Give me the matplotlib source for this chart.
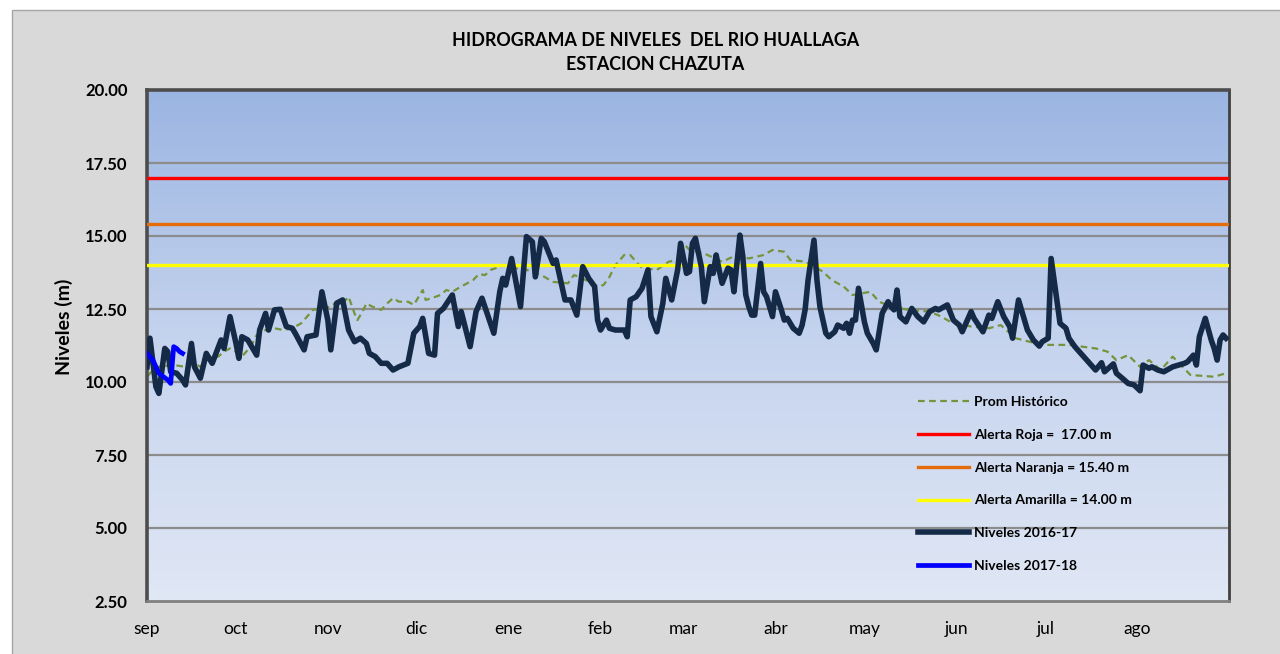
import numpy as np
from matplotlib import pyplot as plt
from matplotlib.colors import LinearSegmentedColormap
from matplotlib.patches import Rectangle

# dias contados desde el 1 de setiembre
meses = ['sep', 'oct', 'nov', 'dic', 'ene', 'feb', 'mar', 'abr', 'may', 'jun', 'jul', 'ago']
inicio_mes = [0, 30, 61, 91, 122, 153, 181, 212, 242, 273, 303, 334]

# niveles 2016-17
dias_1617 = [0, 1, 3, 4, 6, 7, 8, 10, 12, 13,
             15, 16, 18, 20, 22, 25, 26, 28, 30, 31,
             32, 34, 37, 38, 40, 41, 43, 45, 47, 49,
             50, 53, 54, 57, 59, 61, 62, 64, 66, 68,
             70, 72, 74, 75, 77, 79, 81, 83, 85, 88,
             90, 92, 93, 95, 97, 98, 100, 103, 105, 106,
             109, 111, 113, 117, 119, 120, 121, 123, 126, 128,
             130, 131, 133, 134, 137, 138, 141, 143, 145, 147,
             149, 151, 152, 153, 155, 156, 158, 161, 162, 163,
             165, 167, 169, 170, 172, 174, 175, 177, 179, 180,
             182, 183, 184, 185, 187, 188, 190, 191, 192, 193,
             194, 196, 197, 198, 200, 201, 202, 203, 204, 205,
             207, 208, 209, 211, 212, 214, 215, 216, 218, 220,
             221, 222, 223, 225, 226, 227, 229, 230, 232, 233,
             235, 236, 237, 238, 239, 240, 242, 243, 245, 246,
             248, 250, 251, 252, 253, 254, 256, 258, 260, 262,
             264, 266, 267, 270, 272, 274, 275, 278, 279, 282,
             284, 285, 287, 289, 291, 292, 294, 296, 297, 299,
             301, 302, 304, 305, 306, 308, 310, 311, 313, 315,
             317, 319, 320, 322, 323, 326, 327, 329, 331, 333,
             335, 336, 338, 339, 341, 343, 346, 348, 350, 351,
             353, 354, 355, 357, 359, 360, 361, 362, 363, 364]
niv_1617 = [10.52, 11.50, 9.84, 9.61, 11.15, 11.04, 10.35, 10.30, 10.07, 9.90,
            11.32, 10.52, 10.13, 10.98, 10.64, 11.44, 11.15, 12.24, 11.33, 10.81,
            11.55, 11.44, 10.92, 11.78, 12.35, 11.78, 12.47, 12.49, 11.90, 11.84,
            11.67, 11.10, 11.55, 11.61, 13.09, 12.12, 11.10, 12.70, 12.81, 11.78,
            11.38, 11.50, 11.32, 10.98, 10.87, 10.64, 10.64, 10.41, 10.52, 10.64,
            11.67, 11.90, 12.18, 10.98, 10.92, 12.35, 12.52, 12.98, 11.90, 12.41,
            11.21, 12.41, 12.87, 11.67, 13.09, 13.55, 13.32, 14.23, 12.58, 14.98,
            14.80, 13.60, 14.92, 14.81, 14.06, 14.18, 12.81, 12.81, 12.29, 13.95,
            13.55, 13.27, 12.12, 11.78, 12.12, 11.84, 11.78, 11.78, 11.55, 12.81,
            12.92, 13.21, 13.84, 12.24, 11.72, 12.69, 13.55, 12.81, 13.84, 14.75,
            13.72, 13.78, 14.75, 14.92, 13.95, 12.75, 13.95, 13.72, 14.35, 13.84,
            13.38, 13.90, 13.84, 13.09, 15.03, 14.29, 12.98, 12.58, 12.29, 12.29,
            14.06, 13.09, 12.92, 12.24, 13.09, 12.47, 12.12, 12.18, 11.84, 11.67,
            11.95, 12.47, 13.49, 14.86, 13.49, 12.58, 11.67, 11.55, 11.72, 11.95,
            11.84, 12.01, 11.67, 12.12, 12.12, 13.21, 12.06, 11.67, 11.32, 11.10,
            12.35, 12.75, 12.58, 12.47, 13.15, 12.24, 12.06, 12.52, 12.24, 12.06,
            12.41, 12.52, 12.47, 12.64, 12.12, 11.95, 11.72, 12.41, 12.18, 11.72,
            12.29, 12.18, 12.75, 12.24, 11.90, 11.50, 12.81, 12.12, 11.78, 11.44,
            11.23, 11.38, 11.50, 14.23, 13.49, 12.01, 11.84, 11.50, 11.21, 10.98,
            10.75, 10.52, 10.41, 10.66, 10.35, 10.62, 10.30, 10.13, 9.95, 9.90,
            9.70, 10.58, 10.47, 10.52, 10.41, 10.35, 10.52, 10.58, 10.64, 10.69,
            10.92, 10.58, 11.55, 12.18, 11.44, 11.15, 10.75, 11.44, 11.61, 11.50]

# niveles 2017-18 (primeros dias)
dias_1718 = [0, 2, 4, 7, 8, 9, 10, 11, 12]
niv_1718 = [10.98, 10.75, 10.30, 10.07, 9.95, 11.21, 11.15, 11.04, 10.98]

# promedio historico
dias_prom = [0, 2, 4, 9, 13, 16, 18, 20, 24, 26,
             28, 30, 32, 35, 37, 40, 43, 46, 49, 52,
             54, 56, 59, 62, 64, 66, 68, 70, 71, 73,
             74, 76, 79, 81, 83, 85, 88, 90, 93, 94,
             96, 99, 101, 103, 106, 108, 110, 112, 114, 116,
             119, 121, 124, 128, 133, 137, 142, 144, 146, 148,
             152, 154, 156, 158, 161, 163, 165, 167, 172, 176,
             179, 181, 183, 188, 194, 199, 203, 208, 211, 215,
             217, 222, 228, 231, 235, 238, 244, 247, 251, 257,
             264, 268, 271, 278, 284, 288, 293, 302, 311, 320,
             324, 327, 331, 335, 338, 342, 346, 352, 360, 364]
niv_prom = [10.18, 10.41, 10.52, 10.58, 10.52, 10.64, 10.52, 10.75, 10.87, 11.04,
            11.15, 11.04, 10.87, 11.21, 11.61, 11.78, 11.84, 11.78, 11.84, 12.01,
            12.24, 12.47, 12.52, 12.58, 12.75, 12.69, 12.92, 12.35, 12.12, 12.47,
            12.69, 12.58, 12.47, 12.69, 12.87, 12.75, 12.75, 12.64, 13.15, 12.81,
            12.87, 12.98, 13.15, 13.09, 13.27, 13.38, 13.49, 13.70, 13.66, 13.84,
            13.95, 14.01, 13.90, 13.84, 13.66, 13.43, 13.38, 13.66, 13.60, 13.49,
            13.27, 13.32, 13.60, 14.00, 14.35, 14.35, 14.12, 13.90, 13.84, 14.12,
            14.18, 14.75, 14.52, 14.40, 14.12, 14.35, 14.23, 14.35, 14.52, 14.46,
            14.18, 14.12, 13.78, 13.49, 13.27, 12.98, 13.09, 12.75, 12.58, 12.47,
            12.41, 12.24, 12.06, 11.90, 11.84, 11.95, 11.50, 11.27, 11.27, 11.15,
            11.04, 10.75, 10.92, 10.52, 10.75, 10.41, 10.87, 10.24, 10.18, 10.30]

alerta_roja = 17.00
alerta_naranja = 15.40
alerta_amarilla = 14.00

plt.rcParams['font.family'] = ['Lato', 'DejaVu Sans']

fig = plt.figure(figsize=(12.8, 6.54), dpi=100, facecolor='white')
# fondo gris del grafico con su marco
fig.patches.append(Rectangle((12 / 1280, -0.01), 1.0, 1 - 10 / 654 + 0.01,
                             transform=fig.transFigure, facecolor='#d9d9d9',
                             edgecolor='#a6a6a6', linewidth=1.0, zorder=-10))

ax = fig.add_axes([147 / 1280, 53 / 654, 1082 / 1280, 511 / 654])
ax.set_xlim(0, 365)
ax.set_ylim(2.5, 20)

# degradado azul del area de trazado
cmap = LinearSegmentedColormap.from_list('fondo', ['#e0e7f5', '#c6d4ee', '#9bb5e2'])
grad = np.linspace(0, 1, 256).reshape(-1, 1)
ax.imshow(grad, extent=[0, 365, 2.5, 20], origin='lower', aspect='auto',
          cmap=cmap, zorder=0)

for yv in np.arange(5.0, 20.0, 2.5):
    ax.axhline(yv, color='#8c8c8c', lw=1.6, zorder=1)

ax.plot(dias_prom, niv_prom, color='#77933c', lw=1.6, ls=(0, (3, 2)),
        label='Prom Histórico', zorder=2)
ax.axhline(alerta_roja, color='#ff0000', lw=2.4, label='Alerta Roja =  17.00 m', zorder=3)
ax.axhline(alerta_naranja, color='#e46c0a', lw=2.4, label='Alerta Naranja = 15.40 m', zorder=3)
ax.axhline(alerta_amarilla, color='#ffff00', lw=2.4, label='Alerta Amarilla = 14.00 m', zorder=3)
ax.plot(dias_1617, niv_1617, color='#142a47', lw=4.0, solid_joinstyle='round',
        label='Niveles 2016-17', zorder=4)
ax.plot(dias_1718, niv_1718, color='#0000ff', lw=3.4, solid_joinstyle='round',
        label='Niveles 2017-18', zorder=5)

ax.set_xticks(inicio_mes)
ax.set_xticklabels(meses)
ax.set_yticks(np.arange(2.5, 20.01, 2.5))
ax.set_yticklabels(['%.2f' % v for v in np.arange(2.5, 20.01, 2.5)])
ax.tick_params(axis='both', length=0)
ax.tick_params(axis='y', pad=14, labelsize=12)
ax.tick_params(axis='x', pad=14.5, labelsize=12.5)
for lab in ax.get_yticklabels():
    lab.set_fontweight('bold')

ax.set_ylabel('Niveles (m)', fontsize=14, fontweight='bold')
ax.yaxis.set_label_coords(-0.068, 0.536)

for side in ['top', 'left']:
    ax.spines[side].set_color('#4d4d4d')
    ax.spines[side].set_linewidth(2.6)
ax.spines['right'].set_color('#404040')
ax.spines['right'].set_linewidth(2.0)
ax.spines['bottom'].set_color('#808080')
ax.spines['bottom'].set_linewidth(2.0)

fig.text(0.512, 1 - 32 / 654, 'HIDROGRAMA DE NIVELES  DEL RIO HUALLAGA\nESTACION CHAZUTA',
         ha='center', va='top', multialignment='center', fontsize=12.9,
         fontweight='bold', linespacing=1.5)

leg = ax.legend(loc='upper left', bbox_to_anchor=(918 / 1280, 1 - 396 / 654),
                bbox_transform=fig.transFigure, frameon=False, borderpad=0,
                borderaxespad=0, handlelength=3.7, handletextpad=0.35,
                labelspacing=1.5, prop={'weight': 'bold', 'size': 10})

plt.savefig('out.png', dpi=100, facecolor=fig.get_facecolor())
